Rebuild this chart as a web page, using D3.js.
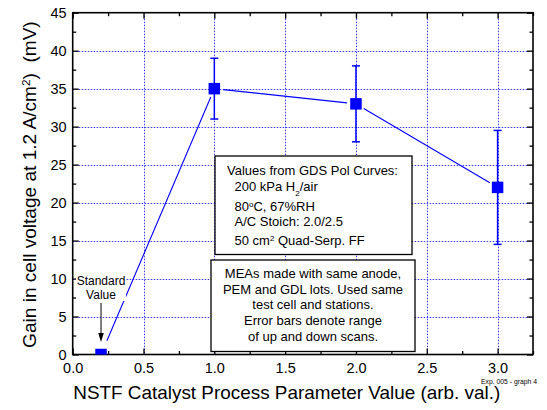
<!DOCTYPE html>
<html>
<head>
<meta charset="utf-8">
<script src="https://cdn.jsdelivr.net/npm/d3@7"></script>
<style>
  html, body { margin: 0; padding: 0; background: #fff; }
  svg { display: block; }
  text { font-family: Arial, "Liberation Sans", sans-serif; fill: #000; }
</style>
</head>
<body>
<svg id="chart" width="547" height="410"></svg>
<script>
// Process parameter values and measured voltage gain (mV)
const paramValues = [0.2, 1.0, 2.0, 3.0];
const gainValues = [0, 35, 33, 22];
// Range of up and down scans (no range for the standard value)
const gainLow = [null, 31, 28, 14.5];
const gainHigh = [null, 39, 38, 29.5];

const xTicks = [0, 0.5, 1.0, 1.5, 2.0, 2.5, 3.0];
const xMinorTicks = [0.25, 0.75, 1.25, 1.75, 2.25, 2.75, 3.25];
const yTicks = [0, 5, 10, 15, 20, 25, 30, 35, 40, 45];
const yMinorTicks = [2.5, 7.5, 12.5, 17.5, 22.5, 27.5, 32.5, 37.5, 42.5];

const conditionLines = [
  "Values from GDS Pol Curves:",
  "200 kPa H|2|/air",
  "80|o|C, 67%RH",
  "A/C Stoich: 2.0/2.5",
  "50 cm|2| Quad-Serp. FF"
];
const noteLines = [
  "MEAs made with same anode,",
  "PEM and GDL lots. Used same",
  "test cell and stations.",
  "Error bars denote range",
  "of up and down scans."
];

const svg = d3.select("#chart");
const pL = 72.7, pR = 533, pT = 12.7, pB = 354.5;
const x = d3.scaleLinear().domain([0, 3.25]).range([pL, pR]);
const y = d3.scaleLinear().domain([0, 45]).range([pB, pT]);
const blue = "#0000ff";

svg.append("defs").append("clipPath").attr("id", "plotClip")
  .append("rect").attr("x", pL).attr("y", pT)
  .attr("width", pR - pL).attr("height", pB - pT);

// dotted grid
const grid = svg.append("g").attr("stroke", "#3a3aff").attr("stroke-width", 1)
  .attr("stroke-dasharray", "1.5,1.5");
grid.selectAll(".gx").data(xTicks.filter(d => d > 0)).join("line")
  .attr("x1", d => Math.round(x(d)) + 0.5).attr("x2", d => Math.round(x(d)) + 0.5)
  .attr("y1", pT).attr("y2", pB);
grid.selectAll(".gy").data(yTicks.filter(d => d > 0 && d < 45)).join("line")
  .attr("y1", d => Math.round(y(d)) + 0.5).attr("y2", d => Math.round(y(d)) + 0.5)
  .attr("x1", pL).attr("x2", pR);

// axes with inward ticks on all four sides
function styleAxis(g) {
  g.select(".domain").remove();
  g.selectAll(".tick line").attr("stroke", "#000").attr("stroke-width", 1.3);
  g.selectAll(".tick text").attr("font-size", "14.5px").attr("fill", "#000")
    .style("font-family", "Arial, 'Liberation Sans', sans-serif");
}
svg.append("g").attr("transform", `translate(0,${pB})`)
  .call(d3.axisBottom(x).tickValues(xTicks).tickFormat(d3.format(".1f")).tickSize(-6).tickPadding(8.2))
  .call(styleAxis);
svg.append("g").attr("transform", `translate(0,${pB})`)
  .call(d3.axisBottom(x).tickValues(xMinorTicks).tickFormat("").tickSize(-3.5))
  .call(styleAxis);
svg.append("g").attr("transform", `translate(0,${pT})`)
  .call(d3.axisTop(x).tickValues(xTicks).tickFormat("").tickSize(-6))
  .call(styleAxis);
svg.append("g").attr("transform", `translate(0,${pT})`)
  .call(d3.axisTop(x).tickValues(xMinorTicks).tickFormat("").tickSize(-3.5))
  .call(styleAxis);
svg.append("g").attr("transform", `translate(${pL},0)`)
  .call(d3.axisLeft(y).tickValues(yTicks).tickSize(-6).tickPadding(6))
  .call(styleAxis);
svg.append("g").attr("transform", `translate(${pL},0)`)
  .call(d3.axisLeft(y).tickValues(yMinorTicks).tickFormat("").tickSize(-3.5))
  .call(styleAxis);
svg.append("g").attr("transform", `translate(${pR},0)`)
  .call(d3.axisRight(y).tickValues(yTicks).tickFormat("").tickSize(-6))
  .call(styleAxis);
svg.append("g").attr("transform", `translate(${pR},0)`)
  .call(d3.axisRight(y).tickValues(yMinorTicks).tickFormat("").tickSize(-3.5))
  .call(styleAxis);

// frame
svg.append("rect").attr("x", pL).attr("y", pT)
  .attr("width", pR - pL).attr("height", pB - pT)
  .attr("fill", "none").attr("stroke", "#000").attr("stroke-width", 1.6);

// helper for text with |sub| / |sup| markers: odd segments are raised or lowered
function richText(sel, str, shift) {
  const parts = str.split("|");
  parts.forEach((p, i) => {
    if (i % 2 === 0) {
      sel.append("tspan").text(p);
    } else {
      sel.append("tspan").text(p).attr("font-size", "0.62em")
        .attr("baseline-shift", shift(p));
    }
  });
}

// connecting line, with a small gap around each symbol
const pts = paramValues.map((v, i) => [x(v), y(gainValues[i])]);
const gap = 9;
const lines = svg.append("g").attr("clip-path", "url(#plotClip)");
for (let i = 0; i < pts.length - 1; i++) {
  const [x0, y0] = pts[i], [x1, y1] = pts[i + 1];
  const len = Math.hypot(x1 - x0, y1 - y0);
  const ux = (x1 - x0) / len, uy = (y1 - y0) / len;
  const g0 = i === 0 ? 15 : gap;
  lines.append("line")
    .attr("x1", x0 + ux * g0).attr("y1", y0 + uy * g0)
    .attr("x2", x1 - ux * gap).attr("y2", y1 - uy * gap)
    .attr("stroke", blue).attr("stroke-width", 1.1);
}

// error bars
const eb = svg.append("g").attr("stroke", blue).attr("stroke-width", 1.5);
paramValues.forEach((v, i) => {
  if (gainLow[i] == null) return;
  const cx = x(v);
  eb.append("line").attr("x1", cx).attr("x2", cx)
    .attr("y1", y(gainLow[i])).attr("y2", y(gainHigh[i]));
  [gainLow[i], gainHigh[i]].forEach(e => {
    eb.append("line").attr("x1", cx - 4).attr("x2", cx + 4)
      .attr("y1", y(e)).attr("y2", y(e));
  });
});

// square symbols
const ms = 11.5;
svg.append("g").attr("clip-path", "url(#plotClip)")
  .selectAll("rect").data(paramValues).join("rect")
  .attr("x", d => x(d) - ms / 2)
  .attr("y", (d, i) => y(gainValues[i]) - ms / 2)
  .attr("width", ms).attr("height", ms)
  .attr("fill", blue);

// "Standard Value" annotation with arrow
const sx = x(paramValues[0]);
const ann = svg.append("g");
ann.append("rect").attr("x", sx - 25).attr("y", 272).attr("width", 50).attr("height", 29).attr("fill", "#fff");
ann.append("text").attr("x", sx).attr("y", 285).attr("text-anchor", "middle")
  .attr("font-size", "12px").text("Standard");
ann.append("text").attr("x", sx).attr("y", 298.5).attr("text-anchor", "middle")
  .attr("font-size", "12px").text("Value");
ann.append("line").attr("x1", sx).attr("x2", sx).attr("y1", 303).attr("y2", 335)
  .attr("stroke", "#000").attr("stroke-width", 1);
ann.append("path")
  .attr("d", `M${sx - 2.8},${333} L${sx + 2.8},${333} L${sx},${342} Z`)
  .attr("fill", "#000");

// conditions box
const box1 = svg.append("g");
box1.append("rect").attr("x", 215).attr("y", 156).attr("width", 197).attr("height", 98.5)
  .attr("fill", "#fff").attr("stroke", "#000").attr("stroke-width", 1.3);
const b1y = [175, 191, 211, 226, 244.5];
conditionLines.forEach((s, i) => {
  const t = box1.append("text").attr("x", i === 0 ? 227 : 234.5).attr("y", b1y[i])
    .attr("font-size", "13px");
  richText(t, s, p => (p === "2" && s.includes("H|")) ? "sub" : "super");
});

// notes box
const box2 = svg.append("g");
box2.append("rect").attr("x", 211).attr("y", 260).attr("width", 204).attr("height", 91.5)
  .attr("fill", "#fff").attr("stroke", "#000").attr("stroke-width", 1.3);
noteLines.forEach((s, i) => {
  box2.append("text").attr("x", 313).attr("y", 278 + i * 15.7)
    .attr("text-anchor", "middle").attr("font-size", "13px").text(s);
});

// axis titles (slightly widened lettering)
svg.append("text").attr("transform", "translate(73.3,399.3) scale(1.08,1)")
  .attr("font-size", "17.5px").text("NSTF Catalyst Process Parameter Value (arb. val.)");
const yt = svg.append("text")
  .attr("transform", `translate(35.5,${(pT + pB) / 2 + 1}) rotate(-90) scale(1.09,1)`)
  .attr("text-anchor", "middle").attr("font-size", "17.5px");
yt.append("tspan").text("Gain in cell voltage at 1.2 A/cm");
yt.append("tspan").text("2").attr("font-size", "0.62em").attr("baseline-shift", "super");
yt.append("tspan").text(")\u00a0\u00a0(mV)");

// small footnote
svg.append("text").attr("x", 481).attr("y", 383.5).attr("font-size", "6.5px")
  .attr("textLength", 56).attr("lengthAdjust", "spacingAndGlyphs")
  .text("Exp. 005 - graph 4");
</script>
</body>
</html>
